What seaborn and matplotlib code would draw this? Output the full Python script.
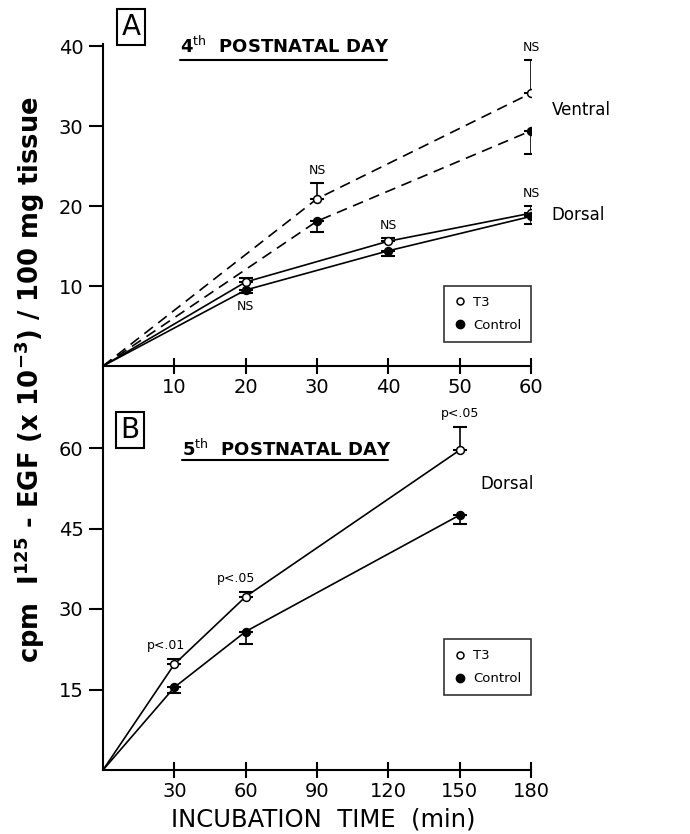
import matplotlib
matplotlib.use("Agg")
import matplotlib.pyplot as plt
from matplotlib.lines import Line2D
import seaborn as sns
import pandas as pd

# ---------------- data ----------------
# Panel A: 4th postnatal day
a_time_dorsal = [0, 20, 40, 60]
a_dorsal_t3 = [0, 10.5, 15.6, 19.1]
a_dorsal_t3_err = [0, 0.5, 0.4, 0.9]
a_dorsal_ctrl = [0, 9.5, 14.4, 18.7]
a_dorsal_ctrl_err = [0, 0.4, 0.7, 0.9]

a_time_ventral = [0, 30, 60]
a_ventral_t3 = [0, 20.9, 34.1]
a_ventral_t3_err = [0, 2.0, 4.2]
a_ventral_ctrl = [0, 18.1, 29.4]
a_ventral_ctrl_err = [0, 1.3, 2.9]

a_xticks = [10, 20, 30, 40, 50, 60]
a_yticks = [10, 20, 30, 40]

# Panel B: 5th postnatal day
b_time = [0, 30, 60, 150]
b_t3 = [0, 19.7, 32.3, 59.6]
b_t3_err = [0, 1.0, 0.8, 4.3]
b_ctrl = [0, 15.4, 25.8, 47.5]
b_ctrl_err = [0, 1.0, 2.4, 1.7]

b_xticks = [30, 60, 90, 120, 150, 180]
b_yticks = [15, 30, 45, 60]

a_sig = ["NS", "NS", "NS", "NS", "NS"]
b_sig = ["p<.01", "p<.05", "p<.05"]

# ---------------- style ----------------
sns.set_theme(style="ticks")
plt.rcParams["font.family"] = ["DejaVu Sans"]
plt.rcParams["axes.linewidth"] = 1.5
for k in ("text.color", "axes.labelcolor", "xtick.color", "ytick.color", "axes.edgecolor"):
    plt.rcParams[k] = "black"

fig = plt.figure(figsize=(6.9, 8.34), dpi=100)
L, R = 103 / 690, 531 / 690
axA = fig.add_axes([L, 1 - 366 / 834, R - L, (366 - 44) / 834])
axB = fig.add_axes([L, 1 - 770 / 834, R - L, (770 - 367.5) / 834])

LW = 1.2
DASH = (0, (6.5, 4))


def series(ax, x, y, err, filled, up, ls="-"):
    df = pd.DataFrame({"x": x, "y": y})
    sns.lineplot(data=df, x="x", y="y", ax=ax, color="black", lw=LW,
                 linestyle=ls, estimator=None, sort=False, legend=False)
    pts = df.iloc[1:]
    e = err[1:]
    if up:
        yerr = [[0] * len(e), e]
    else:
        yerr = [e, [0] * len(e)]
    ax.errorbar(pts["x"], pts["y"], yerr=yerr, fmt="none",
                ecolor="black", elinewidth=1.2, capsize=5, capthick=1.5, zorder=3)
    sns.scatterplot(data=pts, x="x", y="y", ax=ax, s=32,
                    color="black" if filled else "white",
                    edgecolor="black", linewidth=1.1, zorder=5, legend=False)


# Panel A
series(axA, a_time_ventral, a_ventral_t3, a_ventral_t3_err, False, True, DASH)
series(axA, a_time_ventral, a_ventral_ctrl, a_ventral_ctrl_err, True, False, DASH)
series(axA, a_time_dorsal, a_dorsal_t3, a_dorsal_t3_err, False, True)
series(axA, a_time_dorsal, a_dorsal_ctrl, a_dorsal_ctrl_err, True, False)

axA.set_xlim(0, 60)
axA.set_ylim(0, 40.25)
axA.set_xticks(a_xticks)
axA.set_yticks(a_yticks)

# Panel B
series(axB, b_time, b_t3, b_t3_err, False, True)
series(axB, b_time, b_ctrl, b_ctrl_err, True, False)
axB.set_xlim(0, 180)
axB.set_ylim(0, 75)
axB.set_xticks(b_xticks)
axB.set_yticks(b_yticks)

for ax in (axA, axB):
    ax.set_xlabel("")
    ax.set_ylabel("")
    for s in ("top", "right"):
        ax.spines[s].set_visible(False)
    ax.tick_params(axis="y", direction="out", length=10, width=1.5,
                   labelsize=14, pad=4, colors="black")
    ax.tick_params(axis="x", direction="inout", length=11, width=1.5,
                   labelsize=14, pad=3, colors="black")
    ax.patch.set_alpha(0)

# significance labels panel A
sig_kw = dict(textcoords="offset points", ha="center", fontsize=9, color="black")
axA.annotate(a_sig[0], (20, a_dorsal_ctrl[1] - a_dorsal_ctrl_err[1]), xytext=(0, -5), va="top", **sig_kw)
axA.annotate(a_sig[1], (30, a_ventral_t3[1] + a_ventral_t3_err[1]), xytext=(0, 4), va="bottom", **sig_kw)
axA.annotate(a_sig[2], (40, a_dorsal_t3[2] + a_dorsal_t3_err[2]), xytext=(0, 4), va="bottom", **sig_kw)
axA.annotate(a_sig[3], (60, a_ventral_t3[2] + a_ventral_t3_err[2]), xytext=(0, 4), va="bottom", **sig_kw)
axA.annotate(a_sig[4], (60, a_dorsal_t3[3] + a_dorsal_t3_err[3]), xytext=(0, 4), va="bottom", **sig_kw)

# significance labels panel B
axB.annotate(b_sig[0], (30, b_t3[1] + b_t3_err[1]), xytext=(-6, 5), va="bottom", **sig_kw)
axB.annotate(b_sig[1], (60, b_t3[2] + b_t3_err[2]), xytext=(-7, 5), va="bottom", **sig_kw)
axB.annotate(b_sig[2], (150, b_t3[3] + b_t3_err[3]), xytext=(0, 5), va="bottom", **sig_kw)

# region labels
axA.text(62.9, 32.0, "Ventral", fontsize=12, va="center", ha="left", clip_on=False)
axA.text(62.8, 18.9, "Dorsal", fontsize=12, va="center", ha="left", clip_on=False)
axB.text(158.6, 53.3, "Dorsal", fontsize=12, va="center", ha="left", clip_on=False)

# titles with underline
axA.text(0.18, 0.972, r"4$^{\rm th}$  POSTNATAL DAY", transform=axA.transAxes,
         fontsize=13, fontweight="bold", ha="left", va="baseline")
axA.plot([0.18, 0.664], [0.95, 0.95], transform=axA.transAxes, color="black",
         lw=1.5, clip_on=False)
axB.text(0.185, 0.780, r"5$^{\rm th}$  POSTNATAL DAY", transform=axB.transAxes,
         fontsize=13, fontweight="bold", ha="left", va="baseline")
axB.plot([0.185, 0.666], [0.769, 0.769], transform=axB.transAxes, color="black",
         lw=1.5, clip_on=False)

# panel letters
box = dict(boxstyle="square,pad=0.15", facecolor="white", edgecolor="black", linewidth=1.5)
fig.text(131 / 690, 1 - 27 / 834, "A", fontsize=20, ha="center", va="center", bbox=box)
fig.text(130 / 690, 1 - 430 / 834, "B", fontsize=20, ha="center", va="center", bbox=box)

# legends
handles = [
    Line2D([], [], ls="none", marker="o", markersize=5, markerfacecolor="white",
           markeredgecolor="black", markeredgewidth=1.1, label="T3"),
    Line2D([], [], ls="none", marker="o", markersize=6, markerfacecolor="black",
           markeredgecolor="black", label="Control"),
]
for ax, yb in ((axA, 0.075), (axB, 0.186)):
    leg = ax.legend(handles=handles, loc="lower right", bbox_to_anchor=(1.0, yb),
                    borderaxespad=0, fancybox=False, frameon=True, fontsize=9.5,
                    handlelength=0.8, handletextpad=0.6, borderpad=0.75,
                    labelspacing=0.75)
    leg.get_frame().set_edgecolor("black")
    leg.get_frame().set_linewidth(1.2)

# axis labels
fig.text(30 / 690, 1 - 380 / 834,
         r"cpm  I$^{\mathbf{125}}$ - EGF (x 10$^{\mathbf{-3}}$) / 100 mg tissue",
         rotation=90, fontsize=18.5, fontweight="bold", ha="center", va="center")
fig.text(323 / 690, 1 - 819 / 834, "INCUBATION  TIME  (min)", fontsize=17.5,
         ha="center", va="center")

fig.savefig("out.png", dpi=100)
